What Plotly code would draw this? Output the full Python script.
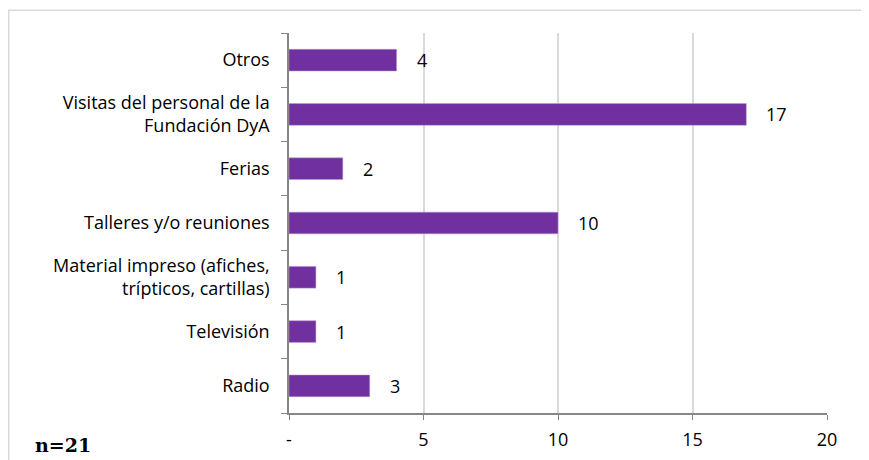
import plotly.graph_objects as go

# categories listed bottom to top, as drawn
categories = ['Radio', 'Televisión', 'Material impreso (afiches,<br>trípticos, cartillas)',
              'Talleres y/o reuniones', 'Ferias',
              'Visitas del personal de la<br>Fundación DyA', 'Otros']
values = [3, 1, 1, 10, 2, 17, 4]
tick_vals = [0, 5, 10, 15, 20]
tick_text = ['-', '5', '10', '15', '20']

FONT = 'Open Sans'
PURPLE = '#7030A0'

fig = go.Figure()
fig.add_trace(go.Bar(
    y=categories, x=values, orientation='h',
    marker=dict(color=PURPLE, line=dict(color='#b89ad0', width=0.5)),
    width=0.4,
))

# data labels to the right of each bar
for c, v in zip(categories, values):
    fig.add_annotation(x=v, y=c, text=str(v), showarrow=False,
                       xanchor='left', xshift=18,
                       font=dict(family=FONT, size=18, color='black'))

fig.add_annotation(x=-0.476, y=-0.084, xref='paper', yref='paper',
                   text='<b>n=21</b>', showarrow=False, xanchor='left', yanchor='middle',
                   font=dict(family='DejaVu Serif', size=19, color='black'))

# outer chart border
fig.add_shape(type='rect', xref='paper', yref='paper',
              x0=-0.521, x1=1.1, y0=-0.3, y1=1.06,
              line=dict(color='#d9d9d9', width=1.5))

fig.update_xaxes(range=[0, 20], tickvals=tick_vals, ticktext=tick_text,
                 showgrid=True, gridcolor='#d9d9d9', gridwidth=1.5,
                 showline=True, linecolor='#868686', linewidth=1.5,
                 ticks='outside', ticklen=5, tickcolor='#868686',
                 zeroline=False, automargin=False, ticklabelstandoff=5,
                 tickfont=dict(family=FONT, size=18, color='black'))
fig.update_yaxes(showline=True, linecolor='#868686', linewidth=1.5,
                 ticks='outside', ticklen=6, tickcolor='#868686',
                 tickson='boundaries', showgrid=False, automargin=False,
                 ticklabelstandoff=14,
                 tickfont=dict(family=FONT, size=18, color='black'))

# the page body adds an 8px offset, so the figure is sized to fit inside it
fig.update_layout(width=861, height=452,
                  margin=dict(l=281, r=42, t=25, b=47),
                  plot_bgcolor='white', paper_bgcolor='white',
                  showlegend=False)

fig.write_html('out.html')
